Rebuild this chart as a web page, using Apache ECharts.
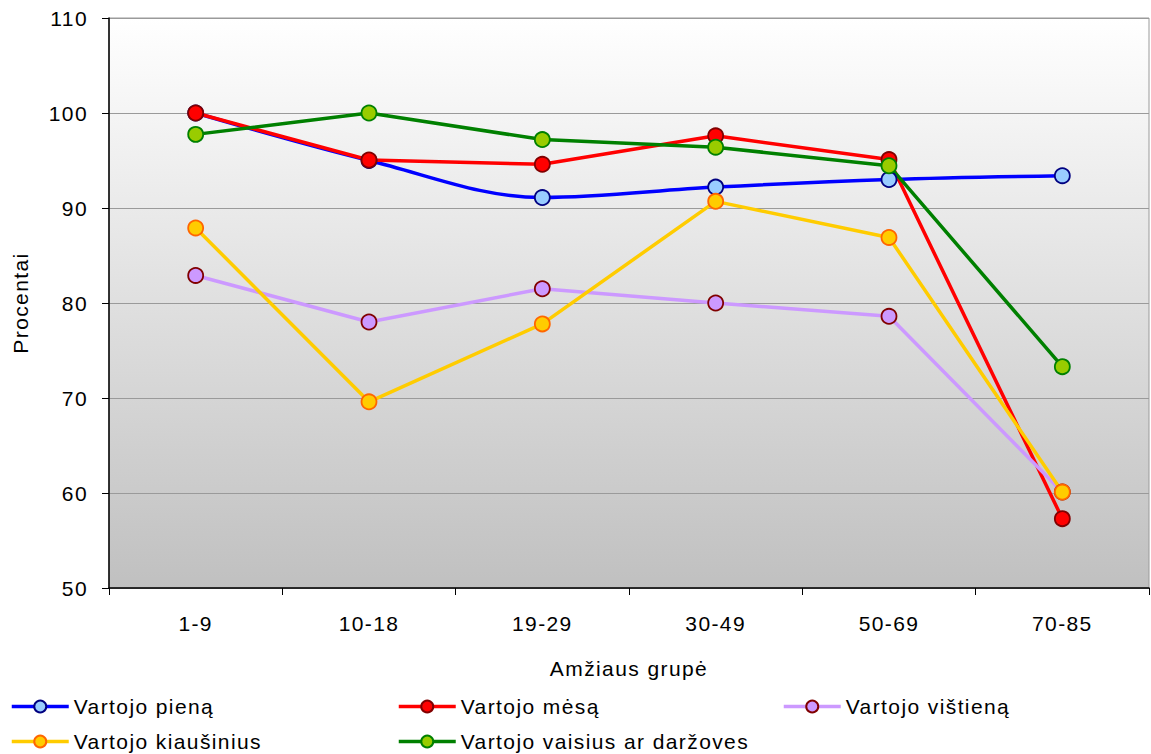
<!DOCTYPE html>
<html>
<head>
<meta charset="utf-8">
<script src="https://cdn.jsdelivr.net/npm/echarts@6/dist/echarts.min.js"></script>
<style>
  html, body { margin: 0; padding: 0; background: #ffffff; }
  #chart { width: 1151px; height: 754px; }
  /* slightly spaced-out lettering for all chart text */
  #chart svg text { letter-spacing: 1.4px; }
</style>
</head>
<body>
<div id="chart"></div>
<script>
// Age groups along the horizontal axis
const ageGroups = ['1-9', '10-18', '19-29', '30-49', '50-69', '70-85'];

// Share of respondents (%) consuming each food, per age group
const pienas = [100, 95.0, 91.1, 92.2, 93.0, 93.4];
const mesa = [100, 95.05, 94.6, 97.6, 95.1, 57.3];
const vistiena = [82.9, 78.0, 81.5, 80.0, 78.6, 60.1];
const kiausiniai = [87.9, 69.6, 77.8, 90.7, 86.9, 60.1];
const vaisiai = [97.75, 100, 97.2, 96.4, 94.45, 73.3];

const seriesNames = [
  'Vartojo pieną',
  'Vartojo mėsą',
  'Vartojo vištieną',
  'Vartojo kiaušinius',
  'Vartojo vaisius ar daržoves'
];

const yTicks = { min: 50, max: 110, step: 10 };

const FONT = 'Liberation Sans, Arial, sans-serif';
const FONT_SIZE = 21;

const chart = echarts.init(document.getElementById('chart'), null, { renderer: 'svg' });

function lineSeries(name, data, lineColor, fill, border, smooth) {
  return {
    name: name,
    type: 'line',
    data: data,
    smooth: smooth || false,
    symbol: 'circle',
    symbolSize: 15,
    lineStyle: { color: lineColor, width: 3.5 },
    itemStyle: { color: fill, borderColor: border, borderWidth: 1.8 },
    emphasis: { disabled: true },
    animation: false
  };
}

function legendAt(name, left, top) {
  return {
    data: [name],
    left: left,
    top: top,
    padding: 0,
    itemWidth: 57,
    itemHeight: 15,
    itemGap: 5,
    lineStyle: { width: 3.5 },
    textStyle: { fontFamily: FONT, fontSize: FONT_SIZE, color: '#000', padding: [0, 0, 0, 0] },
    selectedMode: false
  };
}

chart.setOption({
  backgroundColor: '#ffffff',
  textStyle: { fontFamily: FONT },
  grid: {
    left: 109,
    right: 2,
    top: 18,
    bottom: 166,
    show: true,
    borderColor: '#9a9a9a',
    borderWidth: 1,
    backgroundColor: new echarts.graphic.LinearGradient(0, 0, 0, 1, [
      { offset: 0, color: '#ffffff' },
      { offset: 1, color: '#c0c0c0' }
    ])
  },
  legend: [
    legendAt(seriesNames[0], 10, 696),
    legendAt(seriesNames[1], 397, 696),
    legendAt(seriesNames[2], 782, 696),
    legendAt(seriesNames[3], 10, 731),
    legendAt(seriesNames[4], 397, 731)
  ],
  xAxis: {
    type: 'category',
    data: ageGroups,
    boundaryGap: true,
    name: 'Amžiaus grupė',
    nameLocation: 'middle',
    nameGap: 70,
    nameTextStyle: { fontFamily: FONT, fontSize: FONT_SIZE, color: '#000' },
    axisLine: { lineStyle: { color: '#000', width: 1.5 } },
    axisTick: { show: true, length: 7, lineStyle: { color: '#000' } },
    axisLabel: { fontFamily: FONT, fontSize: FONT_SIZE, color: '#000', margin: 25 },
    splitLine: { show: false }
  },
  yAxis: {
    type: 'value',
    min: yTicks.min,
    max: yTicks.max,
    interval: yTicks.step,
    name: 'Procentai',
    nameLocation: 'middle',
    nameGap: 78,
    nameRotate: 90,
    nameTextStyle: { fontFamily: FONT, fontSize: FONT_SIZE, color: '#000' },
    axisLine: { show: true, lineStyle: { color: '#000', width: 1.5 } },
    axisTick: { show: true, length: 7, lineStyle: { color: '#000' } },
    axisLabel: { fontFamily: FONT, fontSize: FONT_SIZE, color: '#000', margin: 21 },
    splitLine: { show: true, lineStyle: { color: '#9a9a9a', width: 1 } }
  },
  series: [
    lineSeries(seriesNames[0], pienas, '#0000ff', '#99ccff', '#000080', 0.35),
    lineSeries(seriesNames[1], mesa, '#ff0000', '#ff0000', '#800000'),
    lineSeries(seriesNames[2], vistiena, '#cc99ff', '#cc99ff', '#800000'),
    lineSeries(seriesNames[3], kiausiniai, '#ffcc00', '#ffcc00', '#ff6600'),
    lineSeries(seriesNames[4], vaisiai, '#008000', '#99cc00', '#008000')
  ]
});
</script>
</body>
</html>
